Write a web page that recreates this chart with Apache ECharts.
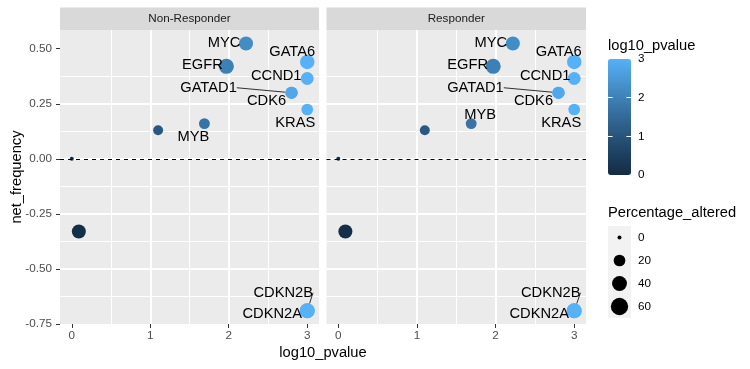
<!DOCTYPE html>
<html><head><meta charset="utf-8">
<script src="https://cdn.jsdelivr.net/npm/echarts@6/dist/echarts.min.js"></script>
<style>html,body{margin:0;padding:0;background:#fff}#c{width:750px;height:369px}</style>
</head><body><div id="c"></div>
<script>
// ---------------- data ----------------
const panels = ['Non-Responder', 'Responder'];
const genes = ['', '', '', 'MYB', 'EGFR', 'MYC', 'GATAD1', 'CDK6', 'GATA6', 'CCND1', 'KRAS', 'CDKN2A', 'CDKN2B'];
const log10Pvalue = [0, 0.09, 1.10, 1.69, 1.97, 2.22, 2.80, 2.80, 3.00, 3.00, 3.00, 3.00, 3.00];
const netFrequencyNonResponder = [0, -0.33, 0.13, 0.16, 0.42, 0.524, 0.30, 0.30, 0.44, 0.365, 0.224, -0.69, -0.69];
const netFrequencyResponder    = [0, -0.33, 0.13, 0.16, 0.42, 0.524, 0.30, 0.30, 0.44, 0.365, 0.224, -0.69, -0.69];
const percentageAlteredNonResponder = [0, 34, 12, 16, 41, 34, 23, 23, 37, 27, 20, 41, 41];
const percentageAlteredResponder    = [0, 34, 12, 16, 41, 34, 23, 23, 37, 27, 20, 41, 41];
const xTicks = [0, 1, 2, 3];
const yTicks = [-0.75, -0.5, -0.25, 0, 0.25, 0.5];
const colorTicks = [0, 1, 2, 3];
const sizeBreaks = [0, 20, 40, 60];

// ---------------- styling ----------------
const FONT = "'Liberation Sans', Arial, sans-serif";
const gradient = ['#132B43', '#22496C', '#336A98', '#448DC6', '#56B1F7'];
const sizeOf = p => 4 + 1.72 * Math.sqrt(p);
// label placement: pixel offset of label centre from point centre (ggrepel result)
const labelOffsets = [
  {MYC: [-22, 0], GATA6: [-15, -10], EGFR: [-24, -1], CCND1: [-31, -3], GATAD1: [-83, -5], CDK6: [-25, 8], KRAS: [-12, 13], MYB: [-11, 13], CDKN2B: [-24, -18], CDKN2A: [-35, 3]},
  {MYC: [-22, 0], GATA6: [-15.5, -10], EGFR: [-25.5, -1], CCND1: [-29, -3], GATAD1: [-83, -5], CDK6: [-25, 8], KRAS: [-13, 13], MYB: [9, -9], CDKN2B: [-23.5, -18], CDKN2A: [-35, 3]}
];
const segmentGenes = ['GATAD1', 'CDKN2B'];
const netFreq = [netFrequencyNonResponder, netFrequencyResponder];
const pct = [percentageAlteredNonResponder, percentageAlteredResponder];

const gridsPos = [
  {left: 60, top: 30, width: 259, height: 294},
  {left: 326.5, top: 30, width: 259.5, height: 294}
];

function panelAxes(i) {
  const x = {
    type: 'value', gridIndex: i, min: -0.15, max: 3.15, splitNumber: 3,
    axisLine: {show: false, onZero: false},
    axisTick: {show: true, length: 4, lineStyle: {color: '#333333', width: 1}, customValues: xTicks},
    axisLabel: {color: '#4D4D4D', fontSize: 11.7, fontFamily: FONT, margin: 6, customValues: xTicks},
    splitLine: {show: true, lineStyle: {color: '#FFFFFF', width: 1.9}, showMinLine: false, showMaxLine: false},
    minorTick: {show: false, splitNumber: 2},
    minorSplitLine: {show: true, lineStyle: {color: '#FFFFFF', width: 1}}
  };
  const y = {
    type: 'value', gridIndex: i, min: -0.75, max: 0.585, interval: 0.25,
    axisLine: {show: false, onZero: false},
    axisTick: {show: i === 0, length: 4, lineStyle: {color: '#333333', width: 1}, customValues: yTicks},
    axisLabel: {show: i === 0, color: '#4D4D4D', fontSize: 11.7, fontFamily: FONT, margin: 8,
      customValues: yTicks, formatter: v => v.toFixed(2)},
    splitLine: {show: true, lineStyle: {color: '#FFFFFF', width: 1.9}, showMinLine: false, showMaxLine: false},
    minorTick: {show: false, splitNumber: 2},
    minorSplitLine: {show: true, lineStyle: {color: '#FFFFFF', width: 1}}
  };
  return {x, y};
}

function panelSeries(i) {
  const data = genes.map((g, k) => ({
    value: [log10Pvalue[k], netFreq[i][k], pct[i][k]],
    name: g,
    label: {show: g !== ''},
    labelLine: {show: segmentGenes.indexOf(g) >= 0, lineStyle: {color: '#000', width: 0.8}}
  }));
  return {
    type: 'scatter', xAxisIndex: i, yAxisIndex: i, data,
    symbol: 'circle',
    symbolSize: v => sizeOf(v[2]),
    itemStyle: {opacity: 1},
    label: {show: true, position: 'inside', formatter: '{b}', color: '#000000',
      fontSize: 14.7, fontFamily: FONT},
    labelLine: {show: false, lineStyle: {color: '#000', width: 0.8}},
    labelLayout: function (p) {
      const g = genes[p.dataIndex];
      const off = labelOffsets[i][g];
      if (!off) return {};
      const cx = p.rect.x + p.rect.width / 2, cy = p.rect.y + p.rect.height / 2;
      const lx = cx + off[0], ly = cy + off[1];
      const res = {x: lx, y: ly, align: 'center', verticalAlign: 'middle'};
      if (segmentGenes.indexOf(g) >= 0) {
        const hw = p.labelRect.width / 2 + 4, hh = p.labelRect.height / 2 + 1;
        const dx = cx - lx, dy = cy - ly;
        const t = Math.min(hw / Math.abs(dx || 1e-6), hh / Math.abs(dy || 1e-6));
        res.labelLinePoints = [[lx + dx * t, ly + dy * t], [cx, cy]];
      }
      return res;
    },
    markLine: {
      silent: true, symbol: 'none', label: {show: false},
      lineStyle: {color: '#000000', type: [4, 4], width: 1},
      data: [{yAxis: 0}]
    },
    z: 3
  };
}

const a0 = panelAxes(0), a1 = panelAxes(1);

const graphic = [];
panels.forEach((name, i) => {
  const g = gridsPos[i];
  graphic.push({type: 'rect', shape: {x: g.left, y: 7.5, width: g.width, height: 22.5},
    style: {fill: '#D9D9D9'}, silent: true});
  graphic.push({type: 'text', x: g.left + g.width / 2, y: 19,
    style: {text: name, fill: '#1A1A1A', font: '11.7px ' + FONT, align: 'center', verticalAlign: 'middle'}, silent: true});
});
graphic.push({type: 'text', x: 323, y: 353,
  style: {text: 'log10_pvalue', fill: '#000', font: '14.7px ' + FONT, align: 'center', verticalAlign: 'middle'}});
graphic.push({type: 'text', x: 17, y: 177, rotation: Math.PI / 2,
  style: {text: 'net_frequency', fill: '#000', font: '14.7px ' + FONT, align: 'center', verticalAlign: 'middle'}});
graphic.push({type: 'text', x: 608, y: 46,
  style: {text: 'log10_pvalue', fill: '#000', font: '14.7px ' + FONT, align: 'left', verticalAlign: 'middle'}});
graphic.push({type: 'text', x: 608, y: 212.5,
  style: {text: 'Percentage_altered', fill: '#000', font: '14.7px ' + FONT, align: 'left', verticalAlign: 'middle'}});

const option = {
  animation: false,
  backgroundColor: '#FFFFFF',
  grid: [
    Object.assign({show: true, backgroundColor: '#EBEBEB', borderWidth: 0}, gridsPos[0]),
    Object.assign({show: true, backgroundColor: '#EBEBEB', borderWidth: 0}, gridsPos[1]),
    {left: 608, top: 59, width: 23, height: 116, show: false},
    {left: 608, top: 226, width: 23, height: 92, show: true, backgroundColor: '#F2F2F2', borderWidth: 0}
  ],
  xAxis: [a0.x, a1.x,
    {type: 'value', gridIndex: 2, min: 0, max: 1, show: false},
    {type: 'value', gridIndex: 3, min: 0, max: 1, show: false}
  ],
  yAxis: [a0.y, a1.y,
    {type: 'value', gridIndex: 2, min: 0, max: 3, interval: 1, position: 'right', z: 10,
      axisLine: {show: false, onZero: false}, splitLine: {show: false},
      axisTick: {show: true, inside: true, length: 4.6, lineStyle: {color: '#FFFFFF', width: 1}, customValues: [1, 2]},
      axisLabel: {show: true, color: '#000', fontSize: 11.7, fontFamily: FONT, margin: 7, customValues: colorTicks}},
    {type: 'value', gridIndex: 2, min: 0, max: 3, interval: 1, position: 'left', z: 10,
      axisLine: {show: false, onZero: false}, splitLine: {show: false},
      axisTick: {show: true, inside: true, length: 4.6, lineStyle: {color: '#FFFFFF', width: 1}, customValues: [1, 2]},
      axisLabel: {show: false}},
    {type: 'category', gridIndex: 3, data: sizeBreaks.map(String), inverse: true, position: 'right',
      axisLine: {show: false, onZero: false}, axisTick: {show: false}, splitLine: {show: false},
      axisLabel: {color: '#000', fontSize: 11.7, fontFamily: FONT, margin: 7}}
  ],
  visualMap: [{
    type: 'continuous', min: 0, max: 3, dimension: 0, seriesIndex: [0, 1],
    inRange: {color: gradient},
    left: 608, top: 59, itemWidth: 23, itemHeight: 116, padding: 0,
    calculable: false, hoverLink: false, realtime: false, text: null, showLabel: false
  }],
  series: [panelSeries(0), panelSeries(1), {
    type: 'scatter', xAxisIndex: 3, yAxisIndex: 4,
    data: sizeBreaks.map(b => [0.5, String(b), b]),
    symbolSize: v => sizeOf(v[2]),
    itemStyle: {color: '#000000', opacity: 1},
    silent: true
  }],
  graphic
};
const chart = echarts.init(document.getElementById('c'), null, {renderer: 'canvas'});
chart.setOption(option);
</script></body></html>
